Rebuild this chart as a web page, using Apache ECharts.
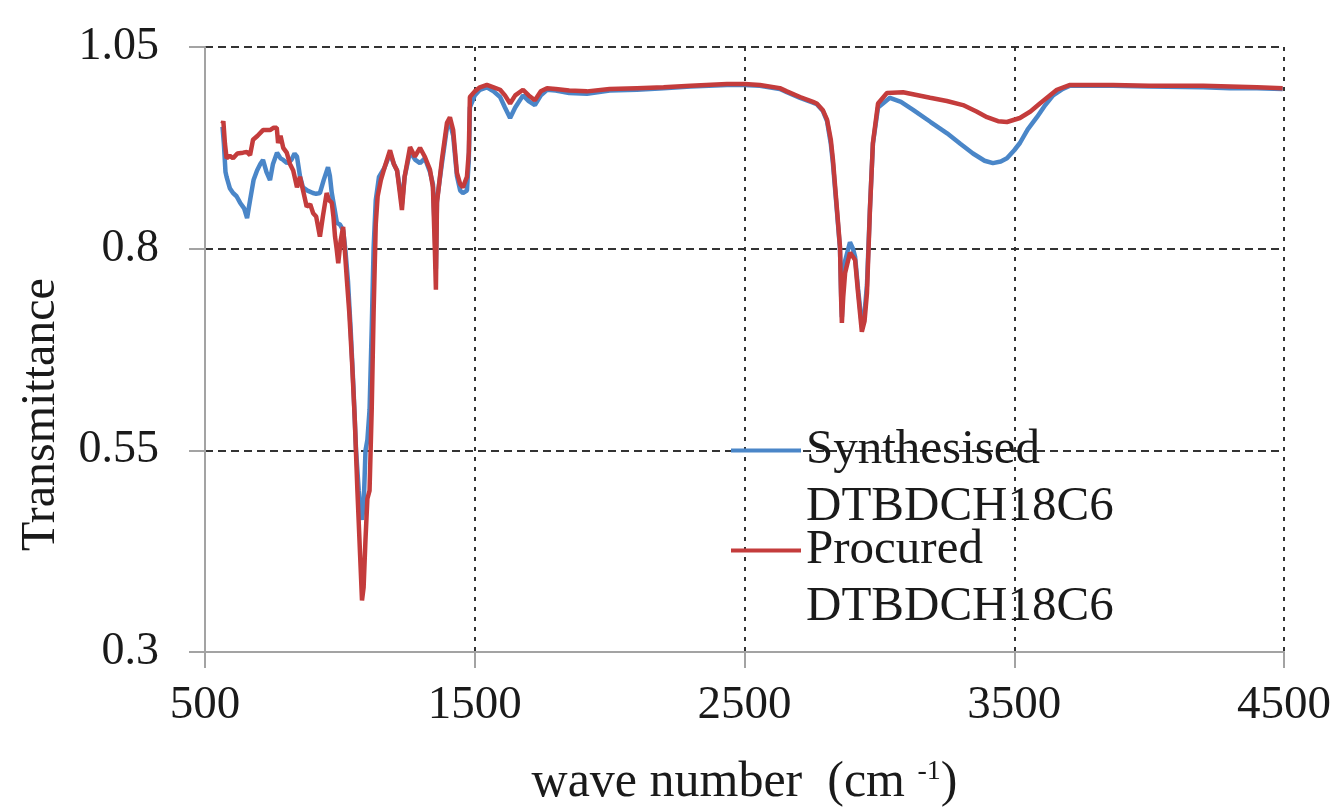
<!DOCTYPE html>
<html>
<head>
<meta charset="utf-8">
<title>FTIR spectra of DTBDCH18C6</title>
<script src="https://cdn.jsdelivr.net/npm/echarts@6/dist/echarts.min.js"></script>
<style>
  html, body { margin: 0; padding: 0; background: #ffffff; }
  #chart { width: 1339px; height: 807px; }
</style>
</head>
<body>
<div id="chart"></div>
<script>
// Series names shown in the legend
const seriesNames = ['Synthesised\nDTBDCH18C6', 'Procured\nDTBDCH18C6'];

// Synthesised DTBDCH18C6: wave number (cm-1) and transmittance
const synthWave = [565,570,576,580,592,604,617,630,645,656,662,667,680,693,705,715,728,741,752,767,780,790,804,820,832,841,852,863,880,900,912,926,940,956,963,970,980,989,1000,1012,1020,1030,1040,1050,1060,1070,1078,1082,1088,1095,1102,1110,1118,1125,1133,1145,1165,1186,1200,1212,1222,1230,1240,1260,1280,1297,1315,1334,1345,1352,1356,1360,1378,1397,1408,1420,1434,1446,1456,1471,1478,1482,1500,1519,1545,1570,1594,1612,1631,1650,1679,1700,1723,1745,1768,1800,1850,1916,2000,2101,2200,2300,2435,2500,2557,2631,2657,2706,2754,2768,2790,2806,2820,2828,2843,2854,2858,2861,2866,2873,2891,2902,2910,2921,2935,2945,2954,2965,2976,2995,3039,3080,3125,3190,3251,3300,3347,3390,3421,3450,3473,3500,3521,3550,3584,3615,3644,3680,3707,3800,3866,4000,4200,4300,4400,4495];
const synthT = [0.951,0.93,0.895,0.889,0.875,0.869,0.865,0.857,0.85,0.838,0.85,0.86,0.885,0.897,0.905,0.91,0.895,0.885,0.905,0.919,0.912,0.91,0.906,0.91,0.918,0.914,0.89,0.876,0.872,0.869,0.868,0.869,0.885,0.901,0.89,0.869,0.85,0.832,0.83,0.823,0.8,0.76,0.7,0.63,0.55,0.5,0.47,0.464,0.48,0.55,0.563,0.6,0.7,0.8,0.86,0.889,0.9,0.918,0.905,0.897,0.875,0.855,0.889,0.92,0.91,0.906,0.912,0.895,0.88,0.82,0.775,0.86,0.905,0.95,0.956,0.94,0.89,0.872,0.869,0.872,0.91,0.975,0.99,0.997,1.0,0.995,0.988,0.975,0.962,0.975,0.99,0.983,0.978,0.99,0.997,0.996,0.993,0.992,0.996,0.997,0.999,1.001,1.003,1.003,1.002,0.998,0.994,0.987,0.981,0.979,0.971,0.958,0.93,0.905,0.845,0.8,0.745,0.715,0.76,0.785,0.808,0.8,0.79,0.75,0.705,0.72,0.755,0.85,0.93,0.975,0.987,0.982,0.972,0.957,0.943,0.93,0.918,0.909,0.906,0.908,0.912,0.922,0.931,0.948,0.963,0.978,0.99,0.998,1.002,1.002,1.002,1.001,1.0,0.999,0.999,0.998];

// Procured DTBDCH18C6: wave number (cm-1) and transmittance
const procWave = [565,568,574,580,592,604,620,641,655,667,678,695,715,741,755,766,771,780,790,803,815,827,835,841,852,865,877,890,901,912,926,937,951,960,970,976,982,988,994,1003,1012,1020,1026,1035,1045,1055,1065,1075,1082,1088,1095,1102,1110,1118,1125,1133,1140,1152,1165,1186,1200,1212,1222,1230,1240,1260,1278,1297,1315,1334,1345,1352,1356,1360,1378,1397,1408,1420,1434,1446,1456,1471,1478,1482,1500,1519,1545,1570,1594,1612,1631,1650,1679,1700,1723,1745,1768,1800,1850,1916,2000,2101,2200,2300,2435,2500,2557,2631,2657,2706,2754,2768,2790,2806,2820,2828,2843,2854,2858,2861,2866,2873,2891,2902,2910,2921,2935,2945,2954,2965,2976,2995,3028,3088,3188,3250,3310,3360,3399,3440,3473,3521,3560,3595,3658,3707,3800,3866,4000,4200,4400,4495];
const procT = [0.955,0.958,0.93,0.912,0.915,0.912,0.918,0.919,0.92,0.916,0.935,0.94,0.947,0.947,0.95,0.95,0.931,0.94,0.925,0.919,0.905,0.897,0.885,0.876,0.889,0.87,0.852,0.855,0.844,0.84,0.815,0.84,0.869,0.86,0.857,0.84,0.815,0.8,0.782,0.81,0.827,0.79,0.761,0.72,0.66,0.59,0.5,0.42,0.364,0.38,0.44,0.49,0.5,0.6,0.72,0.83,0.865,0.885,0.9,0.922,0.905,0.897,0.87,0.848,0.889,0.926,0.914,0.925,0.914,0.898,0.876,0.8,0.749,0.857,0.91,0.956,0.963,0.947,0.894,0.88,0.876,0.889,0.92,0.988,0.995,1.0,1.003,1.0,0.997,0.99,0.98,0.99,0.997,0.99,0.984,0.995,0.999,0.998,0.996,0.995,0.998,0.999,1.0,1.002,1.004,1.004,1.003,0.999,0.995,0.988,0.982,0.98,0.972,0.96,0.935,0.91,0.848,0.802,0.74,0.708,0.74,0.77,0.795,0.79,0.786,0.745,0.697,0.71,0.745,0.848,0.931,0.98,0.993,0.994,0.987,0.983,0.978,0.97,0.963,0.958,0.957,0.962,0.97,0.98,0.997,1.003,1.003,1.003,1.002,1.002,1.0,0.999];

// Axis ranges and tick spacing
const xMin = 500, xMax = 4500, xStep = 1000;
const yMin = 0.3, yMax = 1.05, yStep = 0.25;

const zip = (xs, ys) => xs.map((x, i) => [x, ys[i]]);

const serif = '"Liberation Serif", "DejaVu Serif", serif';
const ink = '#1a1a1a';
const axisGray = '#a3a3a3';
const gridInk = '#333333';
const blue = '#4a86c8';
const red = '#c43c3c';

const chart = echarts.init(document.getElementById('chart'), null, { renderer: 'canvas' });

// One legend block per series; a leading blank line keeps the icon level with the first text line
function legendFor(name, topPx) {
  return {
    data: [name],
    left: 731,
    top: topPx,
    orient: 'vertical',
    padding: 0,
    icon: 'rect',
    itemWidth: 70,
    itemHeight: 4,
    itemGap: 0,
    selectedMode: false,
    formatter: n => '\n' + n,
    textStyle: {
      fontFamily: serif,
      fontSize: 49,
      color: ink,
      lineHeight: 57
    }
  };
}

chart.setOption({
  backgroundColor: '#ffffff',
  animation: false,
  grid: { left: 205, right: 55, top: 47, bottom: 155, containLabel: false, outerBoundsMode: 'none' },
  legend: [legendFor(seriesNames[0], 365), legendFor(seriesNames[1], 465)],
  xAxis: {
    type: 'value',
    min: xMin,
    max: xMax,
    interval: xStep,
    name: 'wave number  (cm {sup|-1})',
    nameLocation: 'middle',
    nameGap: 106,
    nameTextStyle: {
      fontFamily: serif,
      fontSize: 50,
      color: ink,
      rich: {
        sup: { fontFamily: serif, fontSize: 28, color: ink, verticalAlign: 'top', padding: [0, 0, 20, 0] }
      }
    },
    axisLine: { show: true, onZero: false, lineStyle: { color: axisGray, width: 2 } },
    axisTick: { show: true, inside: false, length: 16, lineStyle: { color: axisGray, width: 2 } },
    axisLabel: { fontFamily: serif, fontSize: 47, color: ink, margin: 30, formatter: v => String(v) },
    splitLine: {
      show: true,
      showMinLine: false,
      lineStyle: { color: gridInk, width: 2, type: [4, 6] }
    }
  },
  yAxis: {
    type: 'value',
    min: yMin,
    max: yMax,
    interval: yStep,
    name: 'Transmittance',
    nameLocation: 'middle',
    nameGap: 140,
    nameTextStyle: { fontFamily: serif, fontSize: 48, color: ink, padding: [0, 130, 0, 0] },
    axisLine: { show: true, onZero: false, lineStyle: { color: axisGray, width: 2 } },
    axisTick: { show: true, inside: false, length: 16, lineStyle: { color: axisGray, width: 2 } },
    axisLabel: { fontFamily: serif, fontSize: 46, color: ink, margin: 46 },
    splitLine: {
      show: true,
      showMinLine: false,
      lineStyle: { color: gridInk, width: 2, type: [8, 5] }
    }
  },
  series: [
    {
      name: seriesNames[0],
      type: 'line',
      data: zip(synthWave, synthT),
      showSymbol: false,
      symbol: 'none',
      lineStyle: { color: blue, width: 4.5 },
      itemStyle: { color: blue },
      z: 2
    },
    {
      name: seriesNames[1],
      type: 'line',
      data: zip(procWave, procT),
      showSymbol: false,
      symbol: 'none',
      lineStyle: { color: red, width: 4.5 },
      itemStyle: { color: red },
      z: 3
    }
  ]
});
</script>
</body>
</html>
